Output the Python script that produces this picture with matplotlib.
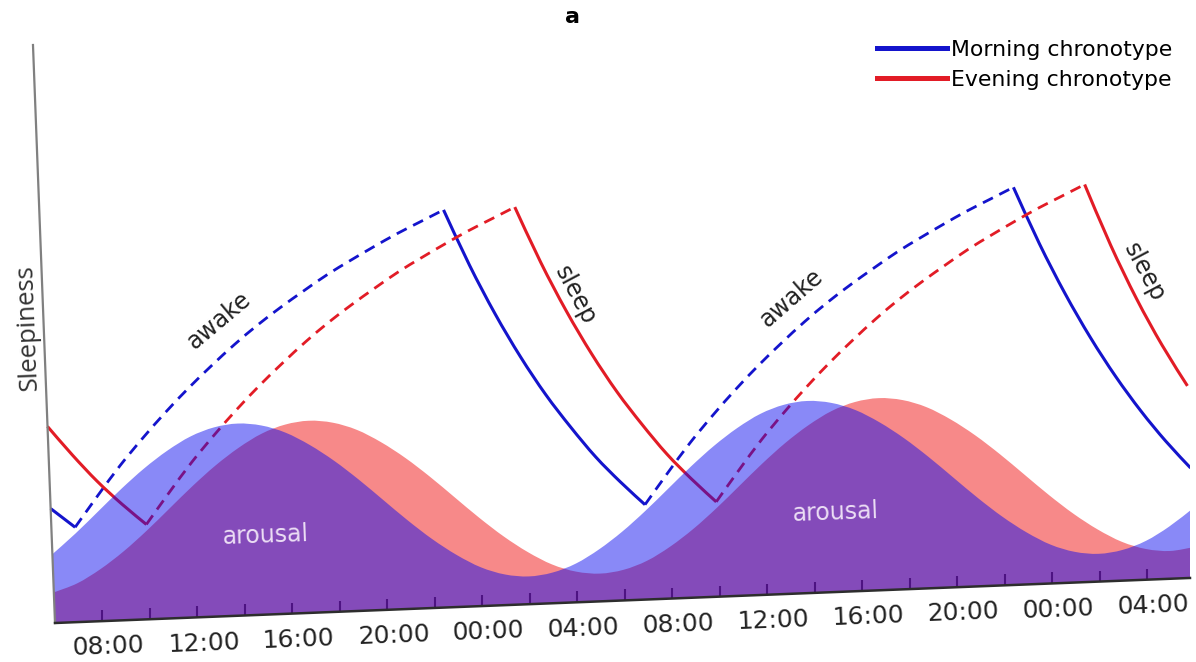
import numpy as np
import matplotlib.pyplot as plt
import matplotlib.transforms as mtransforms
from matplotlib.axes import Axes
from matplotlib.projections import register_projection
from matplotlib.lines import Line2D
from matplotlib.path import Path
from matplotlib.patches import PathPatch

hours = list(range(6, 55))
morning_arousal = [11.9, 15.3, 19.0, 22.7, 26.1, 29.0, 31.3, 32.7, 33.2, 32.7,
                   31.3, 29.0, 26.1, 22.7, 19.0, 15.3, 11.9, 9.0, 6.7, 5.3,
                   4.8, 5.3, 6.7, 9.0, 11.9, 15.3, 19.0, 22.7, 26.1, 29.0,
                   31.3, 32.7, 33.2, 32.7, 31.3, 29.0, 26.1, 22.7, 19.0, 15.3,
                   11.9, 9.0, 6.7, 5.3, 4.8, 5.3, 6.7, 9.0, 11.9]
evening_arousal = [5.3, 6.7, 9.0, 11.9, 15.3, 19.0, 22.7, 26.1, 29.0, 31.3,
                   32.7, 33.2, 32.7, 31.3, 29.0, 26.1, 22.7, 19.0, 15.3, 11.9,
                   9.0, 6.7, 5.3, 4.8, 5.3, 6.7, 9.0, 11.9, 15.3, 19.0,
                   22.7, 26.1, 29.0, 31.3, 32.7, 33.2, 32.7, 31.3, 29.0, 26.1,
                   22.7, 19.0, 15.3, 11.9, 9.0, 6.7, 5.3, 4.8, 5.3]

# sleepiness (homeostatic process), one value per hour of each awake / sleep spell
awake_rise = [16.4, 21.7, 26.8, 31.4, 35.7, 39.7, 43.4, 46.9, 50.1, 53.0,
              55.7, 58.3, 60.6, 62.8, 64.9, 66.8, 68.7]
sleep_fall = [68.7, 59.0, 50.4, 42.8, 36.1, 30.3, 25.0, 20.5, 16.4]

morning_sleep = [
    ([6, 6.5, 7], [19.8, 18.1, 16.4]),
    (list(range(23, 32)), sleep_fall),
    (list(range(47, 55)), [68.7, 58.8, 50.0, 42.2, 35.3, 29.2, 23.8, 19.0]),
]
morning_awake = [
    (list(range(7, 24)), awake_rise),
    (list(range(31, 48)), awake_rise),
]
evening_sleep = [
    (list(range(6, 11)), [34.0, 28.9, 24.2, 20.1, 16.4]),
    (list(range(26, 35)), sleep_fall),
    (list(range(50, 55)), [68.7, 58.0, 48.6, 40.4, 33.2]),
]
evening_awake = [
    (list(range(10, 27)), awake_rise),
    (list(range(34, 51)), awake_rise),
]

tick_hours = list(range(8, 53, 4))
tick_labels = ['08:00', '12:00', '16:00', '20:00', '00:00', '04:00',
               '08:00', '12:00', '16:00', '20:00', '00:00', '04:00']
minor_hours = list(range(10, 51, 4))

blue_line = '#1414cc'
red_line = '#e21c26'


class TiltedAxes(Axes):
    """Axes turned a little, like the photographed original."""
    name = 'tilted'

    def _set_lim_and_transforms(self):
        super()._set_lim_and_transforms()
        tilt = mtransforms.Affine2D(np.array([[1.0, -0.0194, 0.0],
                                              [0.0779, 1.0, 0.0],
                                              [0.0, 0.0, 1.0]]))
        self.transAxes = tilt + mtransforms.BboxTransformTo(self.bbox)
        self.transData = self.transScale + (self.transLimits + self.transAxes)
        self._xaxis_transform = mtransforms.blended_transform_factory(
            self.transScale + self.transLimits,
            mtransforms.IdentityTransform()) + self.transAxes
        self._yaxis_transform = mtransforms.blended_transform_factory(
            mtransforms.IdentityTransform(),
            self.transScale + self.transLimits) + self.transAxes


register_projection(TiltedAxes)


def smooth_path(xs, ys, base=None):
    """Bezier path through the read points (Catmull-Rom tangents)."""
    pts = np.column_stack([xs, ys]).astype(float)
    ext = np.vstack([pts[0], pts, pts[-1]])
    verts = [pts[0]]
    codes = [Path.MOVETO]
    for i in range(len(pts) - 1):
        p0, p1, p2, p3 = ext[i], ext[i + 1], ext[i + 2], ext[i + 3]
        verts += [p1 + (p2 - p0) / 6, p2 - (p3 - p1) / 6, p2]
        codes += [Path.CURVE4] * 3
    if base is not None:
        verts += [(xs[-1], base), (xs[0], base), pts[0]]
        codes += [Path.LINETO, Path.LINETO, Path.CLOSEPOLY]
    return Path(verts, codes)


fig = plt.figure(figsize=(11.96, 6.62), dpi=100)
ax = fig.add_axes([55 / 1196, 39 / 662, 1135 / 1196, 578 / 662], projection='tilted')
ax.patch.set_visible(False)

# sleepiness lines (under the arousal fills)
dashes = (0, (4, 2.6))
for segs, color, style, lw in [(morning_sleep, blue_line, '-', 2.2),
                               (morning_awake, blue_line, dashes, 2.0),
                               (evening_sleep, red_line, '-', 2.2),
                               (evening_awake, red_line, dashes, 2.0)]:
    for hrs, vals in segs:
        ax.add_patch(PathPatch(smooth_path(hrs, vals), facecolor='none',
                               edgecolor=color, lw=lw, linestyle=style, zorder=1))

# arousal
ax.add_patch(PathPatch(smooth_path(hours, evening_arousal, base=0),
                       facecolor='#f00808', alpha=0.48, lw=0, zorder=2))
ax.add_patch(PathPatch(smooth_path(hours, morning_arousal, base=0),
                       facecolor='#0808f0', alpha=0.48, lw=0, zorder=2.1))

ax.set_xlim(6, 53.8)
ax.set_ylim(0, 100)
ax.set_yticks([])
ax.set_xticks(tick_hours)
ax.set_xticklabels(tick_labels)
ax.set_xticks(minor_hours, minor=True)
ax.tick_params(axis='x', which='both', direction='in', length=8, width=1.5,
               color='#333333', pad=9, labelsize=18, labelcolor='#222222',
               labelrotation=2.2)
shift = mtransforms.ScaledTranslation(6 / 100, 0, fig.dpi_scale_trans)
for lab in ax.get_xticklabels():
    lab.set_transform(lab.get_transform() + shift)
for side in ['top', 'right']:
    ax.spines[side].set_visible(False)
ax.spines['left'].set_color('#808080')
ax.spines['left'].set_linewidth(1.6)
ax.spines['bottom'].set_color('#2d2d2d')
ax.spines['bottom'].set_linewidth(1.8)

# annotations
ax.text(13.4, 51.2, 'awake', rotation=40, fontsize=17, color='#222222',
        ha='center', va='center', zorder=3)
ax.text(37.5, 51.1, 'awake', rotation=41, fontsize=17, color='#222222',
        ha='center', va='center', zorder=3)
ax.text(28.4, 53.1, 'sleep', rotation=-62, fontsize=17, color='#222222',
        ha='center', va='center', zorder=3)
ax.text(52.35, 53.2, 'sleep', rotation=-62, fontsize=17, color='#222222',
        ha='center', va='center', zorder=3)
ax.text(15.0, 13.6, 'arousal', rotation=2, fontsize=17, color='#ecdff5',
        ha='center', va='center', zorder=3)
ax.text(39.0, 13.8, 'arousal', rotation=2, fontsize=17, color='#ecdff5',
        ha='center', va='center', zorder=3)
ax.text(-0.0145, 0.512, 'Sleepiness', transform=ax.transAxes, rotation=92.2,
        fontsize=18.5, family='Open Sans', color='#333333', ha='center', va='center')

fig.text(573 / 1196, 1 - 17 / 662, 'a', fontsize=16, fontweight='bold',
         ha='center', va='center')

handles = [Line2D([], [], color=blue_line, lw=3.6),
           Line2D([], [], color=red_line, lw=3.6)]
fig.legend(handles, ['Morning chronotype', 'Evening chronotype'], loc='upper left',
           bbox_to_anchor=(877 / 1196, 1 - 40 / 662), frameon=False, fontsize=15.8,
           handlelength=3.2, handletextpad=0.15, labelspacing=0.45,
           borderpad=0, borderaxespad=0)

fig.savefig('out.png', dpi=100)
